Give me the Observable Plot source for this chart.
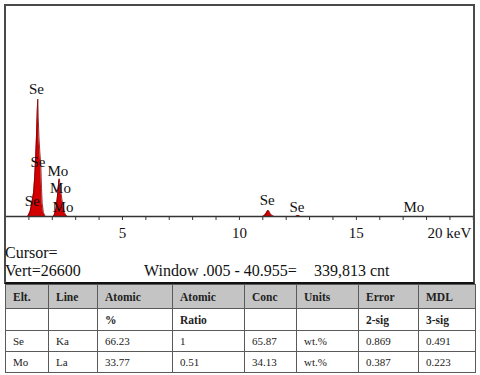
<!DOCTYPE html>
<html><head><meta charset="utf-8">
<script src="https://cdn.jsdelivr.net/npm/d3@7"></script>
<script src="https://cdn.jsdelivr.net/npm/@observablehq/plot@0.6"></script>
<style>
html,body{margin:0;padding:0;background:#fff;}
body{width:480px;height:375px;position:relative;overflow:hidden;font-family:"Liberation Serif","Tinos","Times New Roman","Nimbus Roman","DejaVu Serif",serif;color:#111;}
#chart{position:absolute;left:0;top:0;}
#box{position:absolute;left:4px;top:4px;width:471px;height:280px;box-sizing:border-box;border:2px solid #4a4a4a;border-bottom-color:#111;}
.info{position:absolute;font-size:16px;line-height:16px;white-space:pre;color:#111;}
table{position:absolute;left:5px;top:284px;border-collapse:collapse;table-layout:fixed;width:470px;font-family:inherit;}
td,th{border:1px solid #5a5a5a;padding:0 0 0 7px;text-align:left;font-size:11px;color:#222;overflow:hidden;white-space:nowrap;font-family:inherit;}
th{background:#c4c4c4;font-weight:bold;font-size:11.5px;height:23px;}
td{height:20px;}
td.sub{font-weight:bold;font-size:11.5px;}
</style></head><body>
<div id="chart"></div>
<div id="box"></div>
<div class="info" id="cursor" style="left:5px;top:245px"></div>
<div class="info" id="vert" style="left:5px;top:263px"></div>
<div class="info" id="win" style="left:144px;top:263px"></div>
<div class="info" id="cnt" style="left:314px;top:263px"></div>
<table id="tbl"></table>
<script>
// Spectrum (keV, counts)
const energy = [0, 0.95, 1.05, 1.12, 1.20, 1.25, 1.29, 1.33, 1.36, 1.38, 1.40, 1.43, 1.47, 1.51, 1.54, 1.57, 1.62, 1.70, 2.05, 2.10, 2.16, 2.21, 2.25, 2.28, 2.30, 2.32, 2.36, 2.41, 2.46, 2.52, 2.58, 2.65, 11.00, 11.08, 11.15, 11.21, 11.26, 11.32, 11.40, 11.48, 12.40, 12.47, 12.52, 12.60, 20.05];
const counts = [0, 0, 600, 1600, 3000, 5000, 7500, 10500, 13500, 14800, 12500, 10000, 8000, 6500, 3500, 1600, 500, 0, 0, 300, 1000, 2200, 3500, 4500, 4750, 4300, 3300, 2200, 1300, 500, 150, 0, 0, 150, 450, 750, 700, 350, 100, 0, 0, 100, 120, 0, 0];

// Peak labels
const labelText = ["Se", "Se", "Se", "Mo", "Mo", "Mo", "Se", "Se", "Mo"];
const labelEnergy = [1.32, 1.39, 1.14, 2.24, 2.35, 2.46, 11.19, 12.46, 17.46];
const labelCounts = [16000, 6840, 1945, 5770, 3514, 1190, 2008, 1130, 1130];

// Axis
const xTicks = d3.range(1, 21);
const xTickLabels = [5, 10, 15];
const xUnitLabel = "20 keV";
const vertScale = 26600;

// Info lines
const cursorText = "Cursor=";
const vertText = "Vert=26600";
const windowText = "Window .005 - 40.955=";
const cntText = "339,813 cnt";

// Table
const headRow = ["Elt.", "Line", "Atomic", "Atomic", "Conc", "Units", "Error", "MDL"];
const subRow = ["", "", "%", "Ratio", "", "", "2-sig", "3-sig"];
const rowSe = ["Se", "Ka", "66.23", "1", "65.87", "wt.%", "0.869", "0.491"];
const rowMo = ["Mo", "La", "33.77", "0.51", "34.13", "wt.%", "0.387", "0.223"];
const colWidths = [43, 49, 75, 72, 52, 62, 60, 57];

const FONT = "'Liberation Serif', Tinos, 'Times New Roman', 'Nimbus Roman', 'DejaVu Serif', serif";
const spectrum = energy.map((e, i) => ({e, c: counts[i]}));
const labels = labelText.map((t, i) => ({t, e: labelEnergy[i], c: labelCounts[i]}));

const plot = Plot.plot({
  width: 480, height: 285,
  marginLeft: 5, marginRight: 6, marginTop: 5, marginBottom: 69,
  x: {domain: [0, 20.05]},
  y: {domain: [0, vertScale], axis: null},
  style: {fontFamily: FONT, fontSize: "15px", color: "#111", background: "transparent"},
  marks: [
    Plot.areaY(spectrum, {x: "e", y: "c", fill: "#d20000"}),
    Plot.lineY(spectrum, {x: "e", y: "c", stroke: "#7a0000", strokeWidth: 0.8}),
    Plot.ruleY([0], {stroke: "#333", strokeWidth: 1.3}),
    Plot.axisX({ticks: xTicks, tickSize: 4, tickPadding: 7, stroke: "#333",
      tickFormat: d => xTickLabels.includes(d) ? String(d) : "", label: null,
      fontSize: 15, fill: "#111", fontFamily: FONT}),
    Plot.text([20], {x: d => d, frameAnchor: "bottom", text: () => xUnitLabel, textAnchor: "end",
      lineAnchor: "middle", dy: 16.5, dx: -2, fontSize: 15, fill: "#111", fontFamily: FONT}),
    Plot.text(labels, {x: "e", y: "c", text: "t", lineAnchor: "middle", fontSize: 15, fill: "#111", fontFamily: FONT})
  ]
});
document.getElementById("chart").appendChild(plot);

document.getElementById("cursor").textContent = cursorText;
document.getElementById("vert").textContent = vertText;
document.getElementById("win").textContent = windowText;
document.getElementById("cnt").textContent = cntText;

const tbl = document.getElementById("tbl");
const cg = document.createElement("colgroup");
colWidths.forEach(w => { const c = document.createElement("col"); c.style.width = w + "px"; cg.appendChild(c); });
tbl.appendChild(cg);
function addRow(cells, tag, h, cls) {
  const tr = document.createElement("tr");
  cells.forEach(v => { const el = document.createElement(tag); el.textContent = v; if (h) el.style.height = h + "px"; if (cls) el.className = cls; tr.appendChild(el); });
  tbl.appendChild(tr);
}
addRow(headRow, "th", 23);
addRow(subRow, "td", 21, "sub");
addRow(rowSe, "td", 20);
addRow(rowMo, "td", 20);
</script>
</body></html>
